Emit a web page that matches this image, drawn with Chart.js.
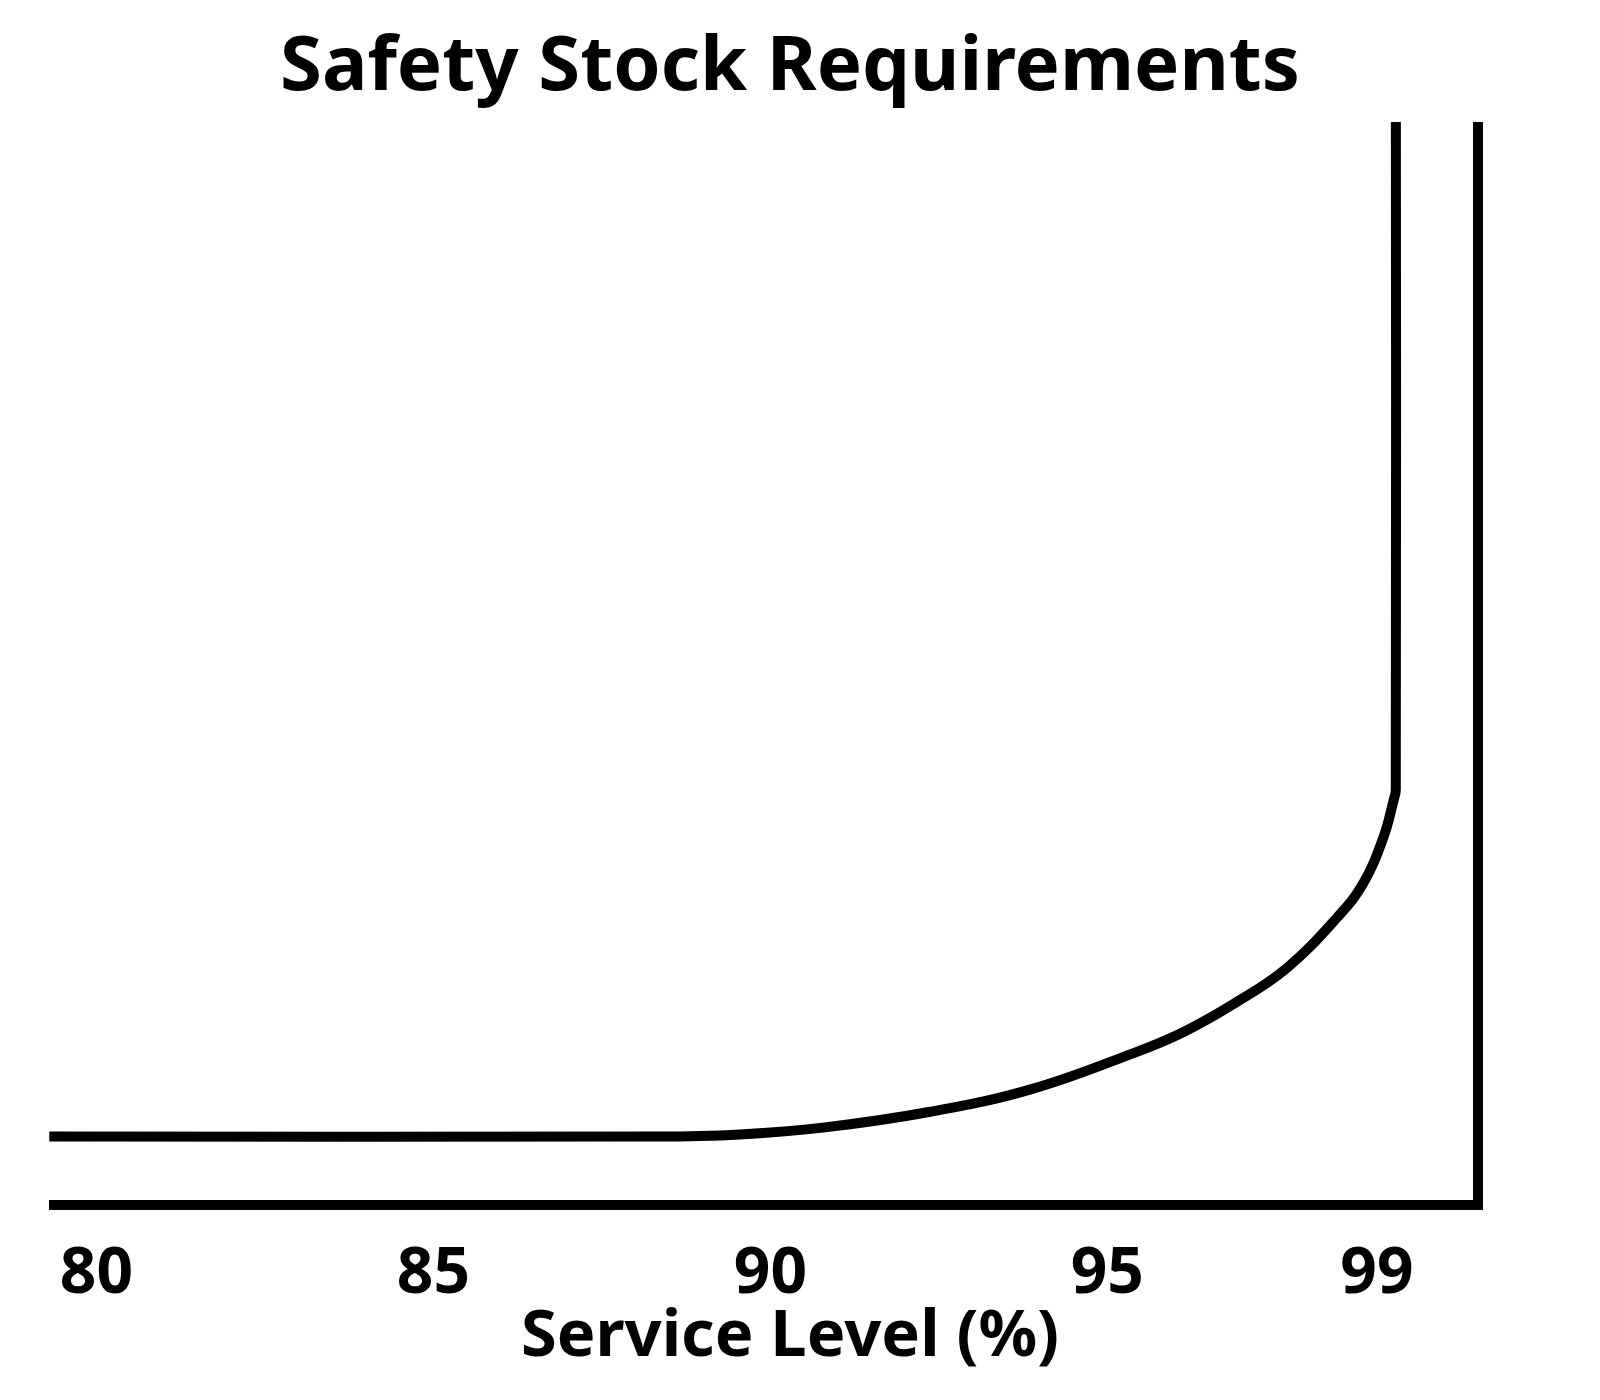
<!DOCTYPE html>
<html>
<head>
  <title>Safety Stock Requirements</title>
  <script src="https://cdn.jsdelivr.net/npm/chart.js"></script>
  <style>
    body {
      margin: 0;
      background: #ffffff;
    }
    #chart {
      display: block;
    }
  </style>
</head>
<body>
  <canvas id="chart" width="1600" height="1400"></canvas>

  <script>
    // service level (%) and safety stock (arbitrary units)
    var serviceLevel = [79.3, 88.3, 89.55, 90.81, 92.33, 93.85, 95.38, 96.14, 96.89, 97.66, 98.42, 98.8, 99.1, 99.25, 99.28, 99.28];
    var safetyStock  = [6.35, 6.35, 6.55, 7.2, 8.6, 10.7, 14.07, 16.08, 18.71, 21.96, 26.74, 29.87, 34.17, 37.6, 38.5, 110];
    var tickValues = [80, 85, 90, 95, 99];

    var fontName = "'Noto Sans', sans-serif";

    var points = [];
    for (var i = 0; i < serviceLevel.length; i++) {
      points.push({ x: serviceLevel[i], y: safetyStock[i] });
    }

    var ctx = document.getElementById("chart").getContext("2d");
    var chart = new Chart(ctx, {
      type: "line",
      data: {
        datasets: [{
          label: "Safety stock",
          data: points,
          borderColor: "#000000",
          borderWidth: 10,
          pointRadius: 0,
          tension: 0.4,
          clip: 5,
          fill: false
        }]
      },
      options: {
        responsive: false,
        animation: false,
        layout: {
          padding: { left: 29, right: 49, top: 0, bottom: 0 }
        },
        plugins: {
          legend: { display: false },
          tooltip: { enabled: false },
          title: {
            display: true,
            text: "Safety Stock Requirements",
            color: "#000000",
            font: { family: fontName, size: 76, weight: "bold" },
            padding: { top: 23, bottom: 12.8 }
          },
          // axis label sits under the tick labels
          subtitle: {
            display: true,
            position: "bottom",
            text: "Service Level (%)",
            color: "#000000",
            font: { family: fontName, size: 65, weight: "bold" },
            padding: { top: 0, bottom: 24 }
          }
        },
        scales: {
          x: {
            type: "linear",
            min: 79.37,
            max: 100.5,
            afterFit: function (scale) { scale.height = 93; },
            afterBuildTicks: function (scale) {
              scale.ticks = tickValues.map(function (v) { return { value: v }; });
            },
            grid: { display: false, drawTicks: false, lineWidth: 10 },
            border: { display: true, color: "#000000", width: 10 },
            ticks: {
              color: "#000000",
              padding: 31,
              maxRotation: 0,
              autoSkip: false,
              font: { family: fontName, size: 64, weight: "bold" },
              callback: function (value) { return value; }
            }
          },
          y: {
            position: "right",
            min: 0,
            max: 100,
            afterFit: function (scale) { scale.width = 73; },
            grid: { display: false, drawTicks: false, lineWidth: 10 },
            border: { display: true, color: "#000000", width: 10 },
            ticks: { display: false }
          },
          // empty spacer on the left, no line drawn
          yLeft: {
            type: "linear",
            axis: "y",
            position: "left",
            afterFit: function (scale) { scale.width = 25; },
            grid: { display: false, drawTicks: false },
            border: { display: false },
            ticks: { display: false }
          }
        }
      }
    });
  </script>
</body>
</html>
